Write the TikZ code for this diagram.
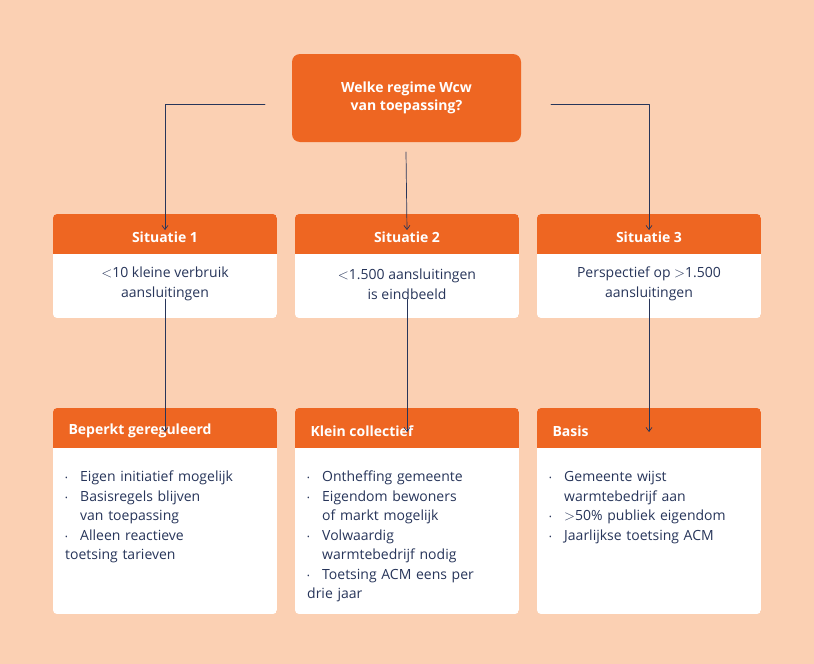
\documentclass[tikz,border=0pt]{standalone}
\usepackage{fontspec}
\setmainfont{Open Sans}
\usetikzlibrary{arrows.meta}
\definecolor{bg}{HTML}{FBD0B3}
\definecolor{oranje}{HTML}{EE6622}
\definecolor{navy}{HTML}{27355A}
\newcommand{\itm}[1]{\par\hangindent=15pt\hangafter=1\makebox[15pt][l]{\raisebox{1pt}{\scriptsize•}}#1}
\begin{document}
\begin{tikzpicture}[x=1pt,y=-1pt,line cap=round,line join=round,>={Straight Barb[length=4pt,width=6pt]},
  hdr/.style={text=white,font=\fontsize{14}{18}\selectfont\bfseries},
  txt/.style={text=navy,font=\fontsize{14}{19.5}\selectfont,align=center},
  lst/.style={text=navy,font=\fontsize{14}{19.5}\selectfont,text width=200pt,align=left,anchor=north west,inner sep=0pt},
  conn/.style={draw=navy,line width=0.7pt,->}]

\fill[bg] (0,0) rectangle (814,664);

% top box
\fill[oranje,rounded corners=8] (292,54) rectangle (521,142);
\node[hdr,align=center] (top) at (406.5,98) {Welke regime Wcw\\van toepassing?};

% boxes
\foreach \x/\n/\t/\b in {53/1/{$<$10 kleine verbruik\\aansluitingen}/Beperkt gereguleerd,
                          295/2/{$<$1.500 aansluitingen\\is eindbeeld}/Klein collectief,
                          537/3/{Perspectief op $>$1.500\\aansluitingen}/Basis}{
  \begin{scope}
    \clip[rounded corners=4] (\x,214) rectangle ++(224,104);
    \fill[white] (\x,214) rectangle ++(224,104);
    \fill[oranje] (\x,214) rectangle ++(224,40);
  \end{scope}
  \node[hdr] (s\n) at ({\x+112},237) {Situatie \n};
  \node[txt] (t\n) at ({\x+112},284) {\t};
  \coordinate (sa\n) at ({\x+112},214);
  \coordinate (sb\n) at ({\x+112},318);
  \begin{scope}
    \clip[rounded corners=4] (\x,408) rectangle ++(224,206);
    \fill[white] (\x,408) rectangle ++(224,206);
    \fill[oranje] (\x,408) rectangle ++(224,40);
  \end{scope}
  \node[hdr,anchor=west] (b\n) at ({\x+12},431) {\b};
  \coordinate (ba\n) at ({\x+112},408);
}

% lists
\node[lst] (l1) at (65,462) {\itm{Eigen initiatief mogelijk}\itm{Basisregels blijven\newline van toepassing}\itm{Alleen reactieve\newline toetsing tarieven}};
\node[lst] (l2) at (307,462) {\itm{Ontheffing gemeente}\itm{Eigendom bewoners\newline of markt mogelijk}\itm{Volwaardig\newline warmtebedrijf nodig}\itm{Toetsing ACM eens per\newline drie jaar}};
\node[lst] (l3) at (549,462) {\itm{Gemeente wijst\newline warmtebedrijf aan}\itm{$>$50\% publiek eigendom}\itm{Jaarlijkse toetsing ACM}};

% connectors
\coordinate (tl) at (265,104);
\coordinate (tr) at (551,104);
\draw[conn] (tl) -| ([yshift=-16]sa1);
\draw[conn] (tr) -| ([yshift=-16]sa3);
\draw[conn] (406,152) -- ([yshift=-16]sa2);
\foreach \n in {1,2,3}
  \draw[conn] ([yshift=19]sb\n) -- ([yshift=-24]ba\n);
\end{tikzpicture}
\end{document}
